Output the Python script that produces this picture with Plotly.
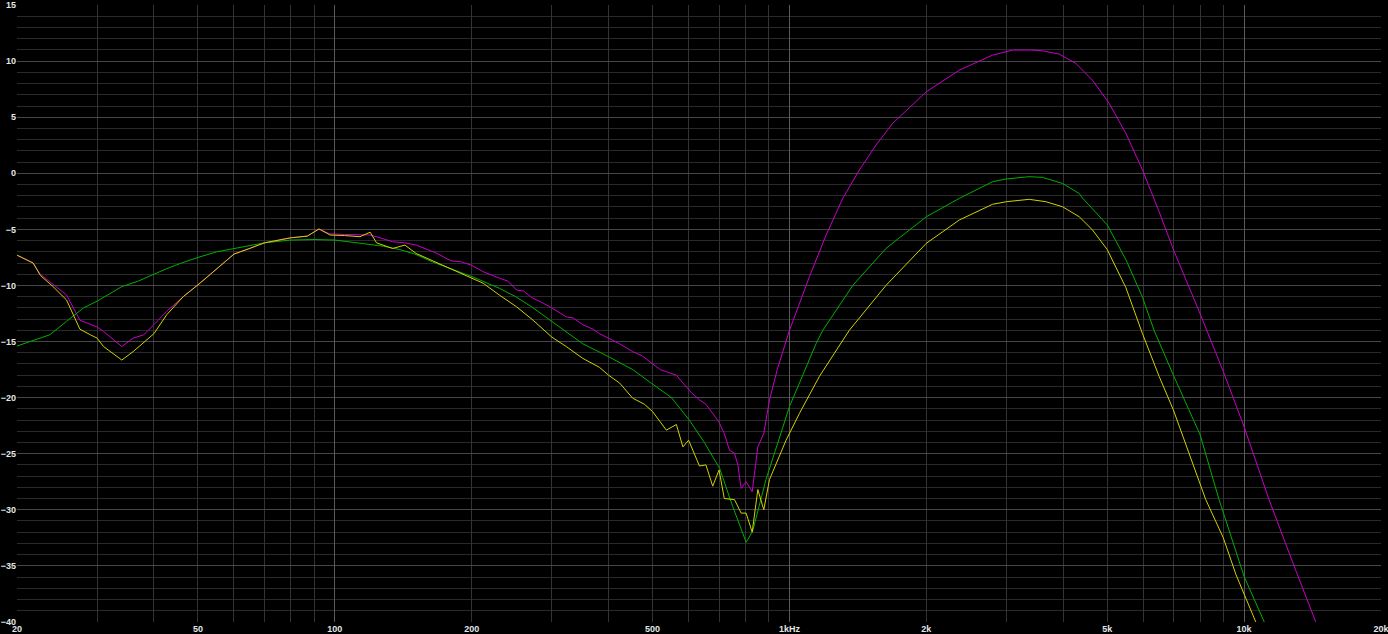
import numpy as np
import plotly.graph_objects as go

# magenta trace
mag_f = [20, 21.7, 22.5, 24, 25.7, 27.5, 30, 31, 34, 36, 38, 40, 42.7, 46.4, 50, 54, 60, 65, 70, 80, 87,
         92.3, 97.6, 105, 113.6, 119.6, 123.5, 134, 142.6, 151, 160, 167, 180, 190, 200, 212, 230, 240,
         251, 260, 273, 285, 300, 323, 335, 351, 370, 382, 400, 423, 452, 475, 500, 520, 536, 564, 583,
         610, 634, 655, 678, 700, 719, 738, 757, 770, 783, 803, 828, 852, 878, 904, 940, 985, 1000, 1107,
         1204, 1310, 1425, 1550, 1687, 2000, 2364, 2798, 3096, 3368, 3600, 3920, 4266, 4640, 5050, 5496,
         5977, 6502, 6990, 8000, 9004, 10000, 11346, 12988, 14376, 15000]
mag_db = [-7.3, -8.0, -9.0, -9.9, -10.85, -13.1, -13.7, -14.1, -15.45, -14.7, -14.4, -13.5, -12.3, -11.0,
          -9.95, -8.8, -7.2, -6.7, -6.2, -5.75, -5.6, -4.96, -5.4, -5.45, -5.5, -5.5, -5.65, -6.1, -6.2,
          -6.4, -6.8, -7.1, -7.8, -7.9, -8.2, -8.77, -9.35, -9.6, -10.4, -10.5, -11.15, -11.5, -12.0,
          -12.8, -12.9, -13.5, -13.9, -14.3, -14.7, -15.2, -15.9, -16.3, -17.0, -17.5, -17.7, -18.0,
          -18.7, -19.6, -20.2, -20.6, -21.4, -22.2, -23.2, -24.7, -24.95, -26.0, -28.1, -27.5, -28.4,
          -24.4, -23.2, -20.2, -17.5, -14.9, -14.0, -9.2, -5.5, -2.23, 0.3, 2.52, 4.46, 7.27, 9.2, 10.54,
          10.99, 11.0, 10.93, 10.63, 9.8, 8.3, 6.24, 3.56, 0.3, -3.42, -6.8, -12.5, -17.7, -22.6, -29.1,
          -35.4, -40.0, -42.5]

# yellow trace
yel_f = [20, 21.7, 22.5, 24, 25.7, 27.5, 29, 30, 31, 34, 36, 40, 42.7, 46.4, 50, 54, 60, 65, 70, 80, 87,
         92.3, 97.6, 105, 113.6, 119.6, 123.5, 134, 142.6, 151, 160, 167, 180, 190, 200, 212, 230, 251,
         273, 300, 323, 351, 382, 400, 423, 452, 480, 500, 536, 564, 583, 600, 634, 655, 678, 700, 719,
         757, 783, 803, 828, 852, 878, 904, 983, 1052, 1164, 1354, 1630, 2000, 2364, 2798, 3000, 3368,
         3664, 3986, 4338, 4640, 5000, 5496, 5977, 6502, 6990, 7569, 8236, 9000, 9600, 10608, 11000]
yel_db = [-7.3, -8.0, -9.1, -10.1, -11.3, -13.9, -14.4, -14.7, -15.45, -16.65, -15.9, -14.3, -12.6, -11.0,
          -9.95, -8.8, -7.2, -6.7, -6.2, -5.75, -5.6, -4.96, -5.5, -5.55, -5.65, -5.25, -6.2, -6.7, -6.4,
          -7.15, -7.6, -7.9, -8.5, -8.9, -9.35, -9.8, -10.85, -11.9, -13.1, -14.6, -15.45, -16.5, -17.3,
          -18.0, -18.7, -20.05, -20.6, -21.25, -22.9, -22.4, -24.4, -23.8, -26.1, -26.0, -27.9, -26.45,
          -29.0, -29.1, -30.3, -30.3, -32.0, -28.2, -30.0, -27.3, -23.8, -21.4, -18.1, -14.0, -10.0,
          -6.24, -4.16, -2.76, -2.53, -2.32, -2.53, -2.98, -3.87, -5.05, -6.8, -10.2, -14.3, -18.1, -21.1,
          -24.95, -29.1, -32.5, -35.8, -40.0, -41.5]

# green trace
grn_f = [20, 21.7, 23.6, 25.7, 28, 30, 34, 37, 40, 42.7, 46, 50, 55, 60, 70, 80, 90, 100, 110, 117, 128,
         139, 150, 164, 180, 200, 230, 250, 273, 300, 351, 400, 452, 500, 550, 602, 650, 702, 750, 803,
         830, 888, 1000, 1144, 1184, 1378, 1630, 2000, 2364, 2798, 3000, 3368, 3600, 3986, 4338, 4410,
         5000, 5496, 5977, 6338, 6990, 8000, 8810, 10000, 11060, 11500]
grn_db = [-15.4, -14.9, -14.4, -13.2, -12.0, -11.4, -10.1, -9.6, -9.0, -8.5, -8.0, -7.5, -7.0, -6.7, -6.2,
          -5.95, -5.9, -5.95, -6.15, -6.25, -6.5, -6.8, -7.2, -7.9, -8.5, -9.2, -10.25, -11.0, -12.0,
          -13.2, -15.2, -16.35, -17.5, -18.8, -20.0, -22.0, -24.0, -26.3, -29.7, -32.9, -31.9, -27.3,
          -20.8, -15.2, -14.0, -10.0, -6.7, -3.87, -2.23, -0.75, -0.5, -0.3, -0.36, -0.9, -1.8, -2.2,
          -4.6, -7.7, -11.05, -14.0, -18.0, -23.3, -29.1, -35.95, -40.0, -41.5]

label_f = [20, 50, 100, 200, 500, 1000, 2000, 5000, 10000, 20000]
label_txt = ["20", "50", "100", "200", "500", "1kHz", "2k", "5k", "10k", "20k"]
decades = [100, 1000, 10000]
grid_f = [m * d for d in (10, 100, 1000) for m in range(2, 11)] + [20000]
y_ticks = list(range(-40, 20, 5))

# every grid frequency gets a line, only the labelled ones get text
grid_txt = [label_txt[label_f.index(f)] if f in label_f else "" for f in grid_f]

fig = go.Figure()
fig.add_trace(go.Scatter(x=mag_f, y=mag_db, mode="lines", line=dict(color="#c800c8", width=1)))
fig.add_trace(go.Scatter(x=grn_f, y=grn_db, mode="lines", line=dict(color="#00b000", width=1)))
fig.add_trace(go.Scatter(x=yel_f, y=yel_db, mode="lines", line=dict(color="#d2d200", width=1),
                         xaxis="x2"))

tickfont = dict(family="Liberation Sans", size=9, color="#e2e6ea", weight="bold")
xr = [np.log10(20) - 1e-4, np.log10(20000) + 1e-4]

fig.update_layout(
    width=1388, height=634,
    margin=dict(l=17, r=7, t=5, b=12),
    paper_bgcolor="#000000", plot_bgcolor="#000000",
    showlegend=False, hovermode=False,
    xaxis=dict(type="log", range=xr, tickvals=grid_f, ticktext=grid_txt, tickfont=tickfont,
               showgrid=True, gridcolor="#333333", gridwidth=1, zeroline=False, ticks="",
               automargin=False, ticklabeloverflow="allow"),
    xaxis2=dict(type="log", range=xr, overlaying="x", anchor="y", side="bottom",
                tickvals=decades, showticklabels=False, showgrid=True, gridcolor="#5a5a5a",
                gridwidth=1, zeroline=False, ticks="", automargin=False),
    yaxis=dict(range=[-40.01, 15.01], tickvals=y_ticks, tickfont=tickfont, showgrid=True,
               gridcolor="#474747", gridwidth=1, zeroline=False, ticks="", automargin=False,
               ticklabeloverflow="allow",
               minor=dict(dtick=1, showgrid=True, gridcolor="#2a2a2a", gridwidth=1, ticks="")),
)

fig.write_html("out.html", config={"displayModeBar": False},
               post_script="document.body.style.margin='0';document.body.style.overflow='hidden';")
